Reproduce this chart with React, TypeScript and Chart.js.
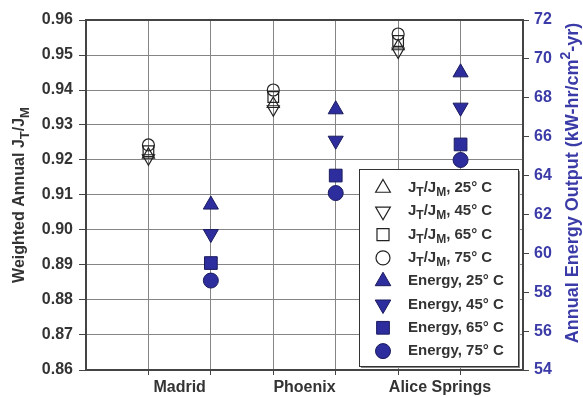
import React, { useEffect, useRef } from 'react';
import { Chart, registerables } from 'chart.js';
import { drawPoint } from 'chart.js/helpers';

Chart.register(...registerables);

// ---------------- data ----------------
const categories = ['Madrid', 'Phoenix', 'Alice Springs'];
const temps = [25, 45, 65, 75];

// Weighted annual JT/JM (left axis)
const jt25 = [0.9215, 0.936, 0.9525];
const jt45 = [0.9205, 0.9345, 0.951];
const jt65 = [0.9225, 0.938, 0.954];
const jt75 = [0.9243, 0.940, 0.956];

// Annual energy output, kW-hr/cm2-yr (right axis)
const e25 = [62.5, 67.4, 69.3];
const e45 = [61.0, 65.8, 67.5];
const e65 = [59.5, 64.0, 65.6];
const e75 = [58.6, 63.1, 64.8];

const leftTicks = [0.86, 0.87, 0.88, 0.89, 0.90, 0.91, 0.92, 0.93, 0.94, 0.95, 0.96];
const rightTicks = [54, 56, 58, 60, 62, 64, 66, 68, 70, 72];

// ---------------- styles ----------------
const FONT = '"Liberation Sans", Arial, Helvetica, sans-serif';
const GRID = '#858585';
const FRAME = '#444444';
const BLUE_TEXT = '#3b3ba8';
const TEXT = '#333333';
const E_FILL = '#2d2d9e';
const E_BORDER = '#1b1b5e';

const shapes = ['triangle', 'triangle', 'rect', 'circle'];
const rotations = [0, 180, 0, 0];
const jRadius = [7, 7, 7.5, 6];
const eRadius = [8.7, 8.7, 9, 7.5];
const jLegendRadius = [8.5, 8.5, 8.5, 7];
const eLegendRadius = [9, 9, 9, 7.5];
const labelNudge = [0, 0, 0.17];

type Seg = { t: string; k: number; w?: number };
function parseRich(s: string): Seg[] {
  const out: Seg[] = [];
  const re = /([_^])\{([^}]*)\}/g;
  let last = 0;
  let m: RegExpExecArray | null;
  while ((m = re.exec(s))) {
    if (m.index > last) out.push({ t: s.slice(last, m.index), k: 0 });
    out.push({ t: m[2], k: m[1] === '_' ? 1 : -1 });
    last = re.lastIndex;
  }
  if (last < s.length) out.push({ t: s.slice(last), k: 0 });
  return out;
}

function drawRich(ctx: CanvasRenderingContext2D, s: string, x: number, y: number, size: number, align: 'left' | 'center') {
  const segs = parseRich(s);
  const fontFor = (k: number) => `bold ${k ? Math.round(size * 0.8) : size}px ${FONT}`;
  let w = 0;
  segs.forEach((sg) => {
    ctx.font = fontFor(sg.k);
    sg.w = ctx.measureText(sg.t).width;
    w += sg.w;
  });
  let cx = align === 'center' ? x - w / 2 : x;
  ctx.textAlign = 'left';
  ctx.textBaseline = 'middle';
  segs.forEach((sg) => {
    ctx.font = fontFor(sg.k);
    const dy = sg.k === 1 ? size * 0.32 : sg.k === -1 ? -size * 0.38 : 0;
    ctx.fillText(sg.t, cx, y + dy);
    cx += sg.w || 0;
  });
}

const framePlugin = {
  id: 'frame',
  beforeDatasetsDraw(chart: any) {
    const { ctx, chartArea } = chart;
    ctx.save();
    ctx.strokeStyle = FRAME;
    ctx.lineWidth = 2;
    ctx.strokeRect(chartArea.left, chartArea.top, chartArea.right - chartArea.left, chartArea.bottom - chartArea.top);
    ctx.restore();
  },
};

const titlesPlugin = {
  id: 'titles',
  afterDraw(chart: any) {
    const { ctx, chartArea } = chart;
    ctx.save();
    ctx.translate(20, (chartArea.top + chartArea.bottom) / 2);
    ctx.rotate(-Math.PI / 2);
    ctx.fillStyle = TEXT;
    drawRich(ctx, 'Weighted Annual J_{T}/J_{M}', 0, 0, 16, 'center');
    ctx.restore();

    ctx.save();
    ctx.translate(573, 183);
    ctx.rotate(-Math.PI / 2);
    ctx.fillStyle = BLUE_TEXT;
    drawRich(ctx, 'Annual Energy Output (kW-hr/cm^{2}-yr)', 0, 0, 18, 'center');
    ctx.restore();
  },
};

const legendPlugin = {
  id: 'customLegend',
  afterDatasetsDraw(chart: any) {
    const { ctx, chartArea } = chart;
    const w = 159;
    const h = 197;
    const x0 = chartArea.right - 5 - w;
    const y0 = chartArea.bottom - 4 - h;
    ctx.save();
    ctx.fillStyle = '#888';
    ctx.fillRect(x0 + 2, y0 + 2, w, h);
    ctx.fillStyle = '#fff';
    ctx.fillRect(x0, y0, w, h);
    ctx.strokeStyle = '#333';
    ctx.lineWidth = 1;
    ctx.strokeRect(x0 + 0.5, y0 + 0.5, w, h);
    chart.data.datasets.forEach((ds: any, i: number) => {
      const cy = y0 + 19 + i * 23.3;
      const cx = x0 + 24;
      ctx.fillStyle = ds.backgroundColor;
      ctx.strokeStyle = ds.borderColor;
      ctx.lineWidth = ds.pointBorderWidth;
      drawPoint(ctx, { pointStyle: ds.pointStyle, rotation: ds.pointRotation, radius: ds.legendRadius, borderWidth: ds.pointBorderWidth } as any, cx, cy);
      ctx.fillStyle = TEXT;
      drawRich(ctx, ds.label, x0 + 49, cy, 15, 'left');
    });
    ctx.restore();
  },
};

const jSeries = [jt25, jt45, jt65, jt75];
const eSeries = [e25, e45, e65, e75];

export default function App() {
  const ref = useRef<HTMLCanvasElement | null>(null);
  useEffect(() => {
    if (!ref.current) return;
    const datasets: any[] = [];
    jSeries.forEach((vals, s) => {
      datasets.push({
        type: 'scatter',
        label: `J_{T}/J_{M}, ${temps[s]}\u00B0 C`,
        data: vals.map((v, i) => ({ x: 2 * i + 1, y: v })),
        yAxisID: 'y',
        pointStyle: shapes[s],
        pointRotation: rotations[s],
        pointRadius: jRadius[s],
        legendRadius: jLegendRadius[s],
        pointBorderWidth: 1.2,
        backgroundColor: 'rgba(255,255,255,0)',
        borderColor: '#222',
        showLine: false,
      });
    });
    eSeries.forEach((vals, s) => {
      datasets.push({
        type: 'scatter',
        label: `Energy, ${temps[s]}\u00B0 C`,
        data: vals.map((v, i) => ({ x: 2 * i + 2, y: v })),
        yAxisID: 'y2',
        pointStyle: shapes[s],
        pointRotation: rotations[s],
        pointRadius: eRadius[s],
        legendRadius: eLegendRadius[s],
        pointBorderWidth: 1,
        backgroundColor: E_FILL,
        borderColor: E_BORDER,
        showLine: false,
      });
    });

    const labelPos = categories.map((_, i) => 2 * i + 1.5 + labelNudge[i]);
    const isGrid = (v: number) => Number.isInteger(v) && v > 0 && v < 7;

    const chart = new Chart(ref.current, {
      type: 'scatter',
      data: { datasets },
      options: {
        animation: false,
        responsive: false,
        events: [],
        layout: { padding: { top: 20, left: 0, right: 0, bottom: 0 } },
        plugins: { legend: { display: false }, tooltip: { enabled: false } },
        scales: {
          x: {
            type: 'linear',
            min: 0,
            max: 7,
            afterBuildTicks: (s: any) => {
              const vals = [0, 1, 2, 3, 4, 5, 6, 7, ...labelPos].sort((a, b) => a - b);
              s.ticks = vals.map((v) => ({ value: v }));
            },
            ticks: {
              autoSkip: false,
              maxRotation: 0,
              padding: 3,
              color: TEXT,
              font: { family: FONT, size: 16, weight: 'bold' },
              callback: (v: any) => {
                const idx = labelPos.findIndex((p) => Math.abs(p - v) < 1e-6);
                return idx >= 0 ? categories[idx] : '';
              },
            },
            grid: {
              color: (c: any) => (c.tick && isGrid(c.tick.value) ? GRID : 'rgba(0,0,0,0)'),
              tickColor: (c: any) => (c.tick && isGrid(c.tick.value) ? FRAME : 'rgba(0,0,0,0)'),
              tickLength: 5,
              lineWidth: 1,
            },
            border: { display: false },
            afterFit: (s: any) => {
              s.height = 27;
            },
          } as any,
          y: {
            type: 'linear',
            position: 'left',
            min: 0.86,
            max: 0.96,
            afterBuildTicks: (s: any) => {
              s.ticks = leftTicks.map((v) => ({ value: v }));
            },
            ticks: {
              padding: 6,
              color: TEXT,
              font: { family: FONT, size: 16, weight: 'bold' },
              callback: (v: any) => Number(v).toFixed(2),
            },
            grid: { color: GRID, tickColor: FRAME, tickLength: 7, lineWidth: 1 },
            border: { display: false },
            afterFit: (s: any) => {
              s.width = 86;
            },
          } as any,
          y2: {
            type: 'linear',
            position: 'right',
            min: 54,
            max: 72,
            afterBuildTicks: (s: any) => {
              s.ticks = rightTicks.map((v) => ({ value: v }));
            },
            ticks: {
              padding: 5,
              color: BLUE_TEXT,
              font: { family: FONT, size: 16, weight: 'bold' },
              callback: (v: any) => String(v),
            },
            grid: { drawOnChartArea: false, tickColor: FRAME, tickLength: 6, lineWidth: 1 },
            border: { display: false },
            afterFit: (s: any) => {
              s.width = 60;
            },
          } as any,
        },
      } as any,
      plugins: [framePlugin, legendPlugin, titlesPlugin],
    });
    return () => chart.destroy();
  }, []);

  return (
    <div style={{ position: 'absolute', left: 0, top: 0, width: 583, height: 397, background: '#fff' }}>
      <canvas ref={ref} width={583} height={397} style={{ display: 'block' }} />
    </div>
  );
}
